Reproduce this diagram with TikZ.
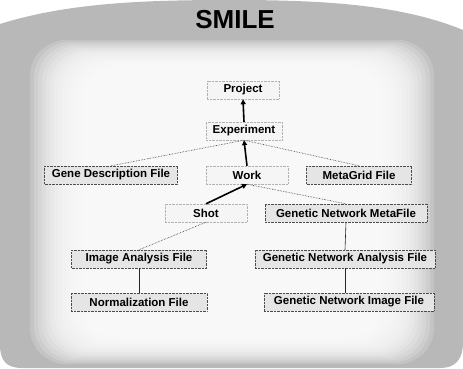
\documentclass[tikz,border=0pt]{standalone}
\usepackage{fontspec}
\setmainfont{Liberation Sans}
\usetikzlibrary{arrows.meta}

\definecolor{bgrey}{gray}{0.72}

\tikzset{
  entity/.style={draw=gray!60, densely dotted, fill=gray!8, minimum height=18pt,
    inner sep=0pt, text=black, font=\bfseries\fontsize{11.5}{13}\selectfont},
  filebox/.style={entity, draw=gray!60!black, fill=gray!20},
  strong/.style={line width=1.6pt, -{Triangle[length=5pt,width=5pt]}},
  weak/.style={densely dotted, draw=gray!40!black, line width=0.6pt},
  link/.style={draw=gray!30!black, line width=0.6pt},
}

\begin{document}
\begin{tikzpicture}[x=1pt, y=-1pt]

\useasboundingbox (0,0) rectangle (463,368);

\def\yp{90}; % project
\def\ye{131}; % experiment
\def\yw{175}; % work row
\def\ys{213}; % shot row
\def\yi{259}; % analysis row
\def\yn{302}; % image row

% frame
\fill[bgrey] (0,24) .. controls (70,2) and (150,0) .. (232,0)
  .. controls (320,0) and (400,4) .. (463,30) -- (463,342)
  .. controls (463,360) and (455,368) .. (440,368) -- (22,368)
  .. controls (6,368) and (0,360) .. (0,345) -- cycle;

% white middle, fading out to the frame
\foreach \k in {0,...,13}
  \fill[white, opacity=0.18, rounded corners=36pt]
    (30+4*\k, 40+2*\k) rectangle (434-4*\k, 364-2*\k);

\node[font=\bfseries\fontsize{26}{28}\selectfont] (title) at (235,20) {SMILE};

\node[entity, minimum width=72pt] (project) at (243,\yp) {Project};
\node[entity, minimum width=76pt] (experiment) at (244,\ye) {Experiment};

\node[filebox, minimum width=133pt] (gene) at (111,\yw) {Gene Description File};
\node[entity, minimum width=82pt] (work) at (247,\yw) {Work};
\node[filebox, minimum width=105pt] (metagrid) at (359,\yw) {MetaGrid File};

\node[entity, minimum width=82pt] (shot) at (206,\ys) {Shot};
\node[filebox, minimum width=162pt] (gnmeta) at (346,\ys) {Genetic Network MetaFile};

\node[filebox, minimum width=135pt] (imageana) at (139,\yi) {Image Analysis File};
\node[filebox, minimum width=180pt] (gnana) at (345,\yi) {Genetic Network Analysis File};

\node[filebox, minimum width=136pt] (norm) at (139,\yn) {Normalization File};
\node[filebox, minimum width=170pt] (gnimage) at (349,\yn) {Genetic Network Image File};

\draw[strong] (experiment.north) -- (project.south);
\draw[strong] (work.north) -- (experiment.south);
\draw[weak] (gene.north) -- (experiment.south);
\draw[weak] (metagrid.north) -- (experiment.south);

\draw[strong] (shot.north) -- (work.south);
\draw[weak] (work.south) -- (gnmeta.north);
\draw[weak] (shot.south) -- (imageana.north);

\draw[link] (imageana) -- (norm);
\draw[link] (gnmeta.south) -- (gnana.north);
\draw[link] (gnana.south) -- (gnana.south |- gnimage.north);

\end{tikzpicture}
\end{document}
